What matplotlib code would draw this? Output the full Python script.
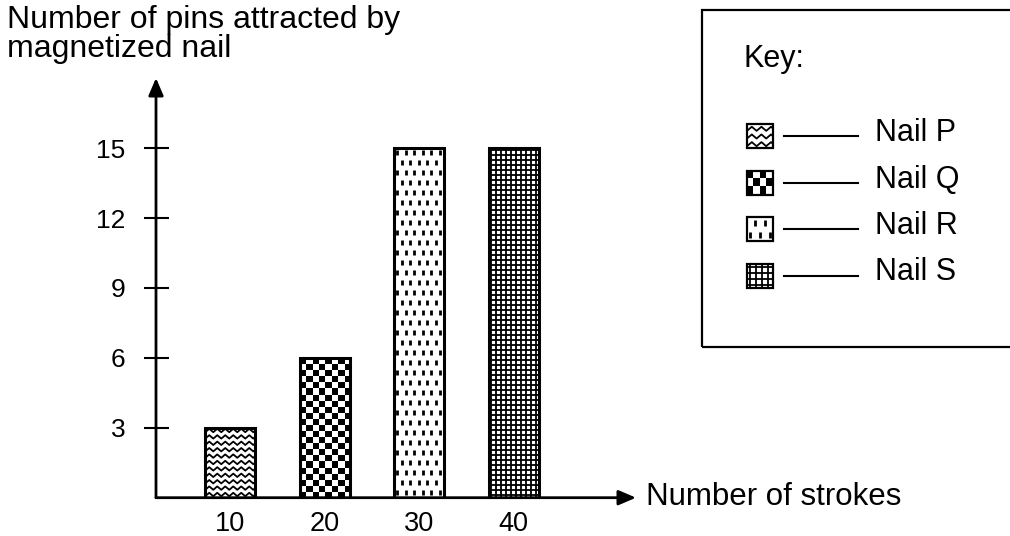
import numpy as np
import matplotlib
matplotlib.use('Agg')
import matplotlib.pyplot as plt
from matplotlib.patches import Rectangle
from matplotlib.collections import LineCollection

# ---------------- data ----------------
strokes = [10, 20, 30, 40]
pins = [3, 6, 15, 15]
nails = ['Nail P', 'Nail Q', 'Nail R', 'Nail S']
textures = ['wave', 'checker', 'dash', 'grid']
y_ticks = [3, 6, 9, 12, 15]
x_label = 'Number of strokes'
y_label_lines = ['Number of pins attracted by', 'magnetized nail']
legend_title = 'Key:'

W, H = 1010, 536
plt.rcParams['font.family'] = ['Liberation Sans', 'DejaVu Sans']
fig = plt.figure(figsize=(W / 100, H / 100), dpi=100)


def add_texture(ax, patch, kind, x, y, w, h, sx, sy, scale=1.0):
    """Fill rectangle (data coords) with a texture; sx, sy = pixels per data unit."""
    segs = []
    if kind == 'checker':
        c = 6.0 * scale
        nx = max(2, int(round(w * sx / c)))
        ny = max(2, int(round(h * sy / c)))
        arr = np.add.outer(np.arange(ny), np.arange(nx)) % 2
        im = ax.imshow(arr, cmap='gray', vmin=0, vmax=1, extent=(x, x + w, y, y + h),
                       interpolation='nearest', aspect='auto', zorder=2)
        im.set_clip_path(patch)
        return
    if kind == 'wave':
        dy = 6.4 * scale / sy
        per = 8.0 * scale / sx
        amp = 1.7 * scale / sy
        rows = np.arange(y + dy * 0.5, y + h + dy, dy)
        xs = np.arange(x - per, x + w + per, per / 2)
        sign = np.where(np.arange(len(xs)) % 2 == 0, -1.0, 1.0)
        for r in rows:
            segs.append(np.column_stack([xs, r + amp * sign]))
        lw = 1.3
    elif kind == 'grid':
        d = 5.0 * scale
        for gx in np.arange(x + d / sx / 2, x + w, d / sx):
            segs.append([(gx, y), (gx, y + h)])
        for gy in np.arange(y + d / sy / 2, y + h, d / sy):
            segs.append([(x, gy), (x + w, gy)])
        lw = 1.3
    elif kind == 'dash':
        dxp, dyp, L = 8.5 * scale, 10.0 * scale, 4.5 * scale
        for j, gy in enumerate(np.arange(y + dyp / sy / 2, y + h, dyp / sy)):
            off = (dxp / 2 / sx) if j % 2 else 0.0
            for gx in np.arange(x + 3 / sx + off, x + w, dxp / sx):
                segs.append([(gx, gy - L / 2 / sy), (gx, gy + L / 2 / sy)])
        lw = 2.0
    lc = LineCollection(segs, colors='black', linewidths=lw, zorder=2)
    ax.add_collection(lc)
    lc.set_clip_path(patch)


# ---------------- main axes ----------------
ax_l, ax_r, ax_b, ax_t = 156, 636, 497.7, 78
ax = fig.add_axes([ax_l / W, (H - ax_b) / H, (ax_r - ax_l) / W, (ax_b - ax_t) / H])
x_zero_px, sx = 135.8, 9.45
sy = 23.3
xlim = ((ax_l - x_zero_px) / sx, (ax_r - x_zero_px) / sx)
ylim = (0, (ax_b - ax_t) / sy)

bar_w = 5.3
fills = ax.bar(strokes, pins, width=bar_w, color='white', edgecolor='none', zorder=1)
for b, kind in zip(fills, textures):
    add_texture(ax, b, kind, b.get_x(), b.get_y(), b.get_width(), b.get_height(), sx, sy)
ax.bar(strokes, pins, width=bar_w, facecolor='none', edgecolor='black', linewidth=2.2, zorder=3)

ax.set_xlim(*xlim)
ax.set_ylim(*ylim)
for s in ax.spines.values():
    s.set_visible(False)
ax.set_facecolor('none')

arrow = dict(arrowstyle='-|>,head_length=1.05,head_width=0.45', lw=2, color='black',
             shrinkA=0, shrinkB=0, mutation_scale=10)
ax.annotate('', xy=(1, 0), xycoords='axes fraction', xytext=(0, 0),
            arrowprops=arrow, annotation_clip=False)
ax.annotate('', xy=(0, 1), xycoords='axes fraction', xytext=(0, 0),
            arrowprops=arrow, annotation_clip=False)

ax.set_yticks(y_ticks)
ax.set_yticklabels([str(v) for v in y_ticks])
ax.set_xticks(strokes)
ax.set_xticklabels([str(v) for v in strokes])
ax.tick_params(axis='y', direction='inout', length=18, width=1.5, pad=13, labelsize=19)
ax.tick_params(axis='x', length=0, pad=9.5, labelsize=19.5)

# ---------------- overlay (pixel coordinates, y up) ----------------
ov = fig.add_axes([0, 0, 1, 1])
ov.set_xlim(0, W)
ov.set_ylim(0, H)
ov.axis('off')
ov.set_facecolor('none')

def py(y_down):
    return H - y_down

ov.text(7, py(28), y_label_lines[0], fontsize=23, va='baseline', ha='left')
ov.text(7, py(57), y_label_lines[1], fontsize=23, va='baseline', ha='left')
ov.text(646, py(505), x_label, fontsize=22.5, va='baseline', ha='left')

# legend box
ov.add_patch(Rectangle((702, py(347)), 400, 337, fill=False, edgecolor='black', linewidth=1.6))
ov.text(743, py(67), legend_title, fontsize=22, va='baseline', ha='left')

sw_x, sw_w, sw_h = 747, 26, 24
for i, (name, kind) in enumerate(zip(nails, textures)):
    cy = 136 + i * 46.5
    r = Rectangle((sw_x, py(cy) - sw_h / 2), sw_w, sw_h, facecolor='white',
                  edgecolor='none', zorder=1)
    ov.add_patch(r)
    add_texture(ov, r, kind, sw_x, py(cy) - sw_h / 2, sw_w, sw_h, 1.0, 1.0, scale=1.2)
    ov.add_patch(Rectangle((sw_x, py(cy) - sw_h / 2), sw_w, sw_h, fill=False,
                           edgecolor='black', linewidth=1.6, zorder=3))
    ov.plot([784, 858], [py(cy), py(cy)], color='black', lw=1.5)
    ov.text(875, py(cy + 5), name, fontsize=22, va='baseline', ha='left')

ov.set_xlim(0, W)
ov.set_ylim(0, H)

fig.savefig('out.png', dpi=100, facecolor='white')
